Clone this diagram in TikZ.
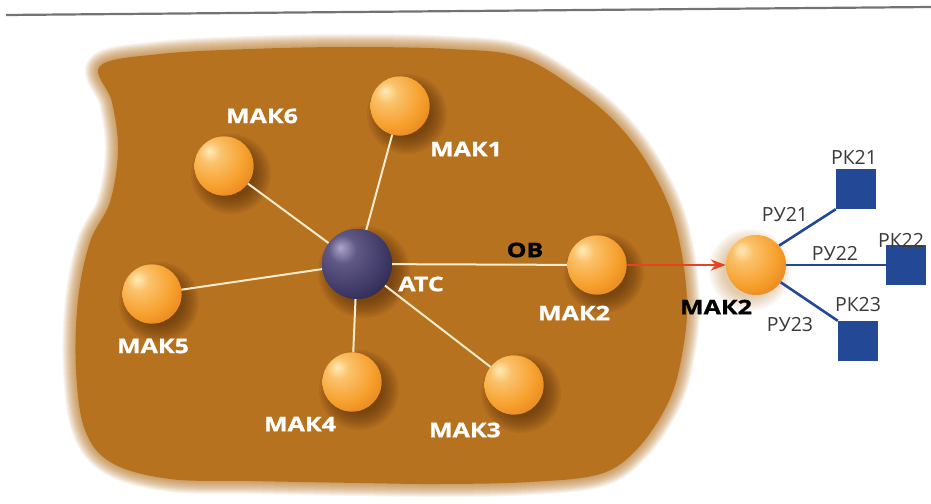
\documentclass[tikz,border=0pt]{standalone}
\usepackage{fontspec}
\setmainfont{Open Sans}
\newfontfamily\lblfont[FakeStretch=1.25,FakeBold=1.2]{Open Sans}
\usetikzlibrary{arrows.meta}
\definecolor{blobc}{RGB}{183,114,32}
\definecolor{ohi}{RGB}{255,236,185}
\definecolor{omid}{RGB}{247,160,45}
\definecolor{odark}{RGB}{214,108,18}
\definecolor{dhi}{RGB}{175,165,205}
\definecolor{dmid}{RGB}{62,56,102}
\definecolor{ddark}{RGB}{18,16,42}
\definecolor{creamc}{RGB}{246,236,204}
\definecolor{bluec}{RGB}{34,72,150}
\definecolor{arrowc}{RGB}{228,68,36}
\definecolor{textc}{RGB}{58,58,58}
\definecolor{shadc}{RGB}{80,42,8}
\pgfdeclareradialshading{oball}{\pgfpoint{-13bp}{13bp}}{color(0bp)=(ohi); color(9bp)=(omid!55!ohi); color(26bp)=(omid); color(48bp)=(odark); color(75bp)=(odark)}
\pgfdeclareradialshading{dball}{\pgfpoint{-12bp}{12bp}}{color(0bp)=(dhi); color(10bp)=(dmid!70!dhi); color(28bp)=(dmid); color(50bp)=(ddark); color(75bp)=(ddark)}
\tikzset{
  oballst/.style={circle, minimum size=59pt, inner sep=0pt, shading=oball},
  dballst/.style={circle, minimum size=70pt, inner sep=0pt, shading=dball},
  wlbl/.style={font=\lblfont\bfseries\fontsize{20}{20}\selectfont, text=white, inner sep=0pt},
  blbl/.style={font=\lblfont\bfseries\fontsize{20}{20}\selectfont, text=black, inner sep=0pt},
  rlbl/.style={font=\fontsize{19.5}{19.5}\selectfont, text=textc, inner sep=0pt},
  creamline/.style={draw=creamc, line width=2pt},
  blueline/.style={draw=bluec, line width=2.6pt},
  rksq/.style={fill=bluec, minimum size=40pt, inner sep=0pt},
}
\begin{document}
\begin{tikzpicture}[x=1pt,y=-1pt]
\useasboundingbox (0,0) rectangle (931,503);
\fill[white] (0,0) rectangle (931,503);
% top rule
\coordinate (tl) at (6,15);
\coordinate (tr) at (931,7);
\draw[line width=2.2pt, black!55] (tl) -- (tr);
% blob
\def\blobpath{plot[smooth cycle, tension=0.6] coordinates {(100,66) (160,54) (250,49) (350,47) (450,49) (520,57) (577,90) (620,127) (653,173) (676,227) (687,300) (681,360) (667,405) (637,449) (600,474) (530,482) (440,484) (360,483) (250,481) (170,479) (112,463) (85,430) (76,370) (78,300) (90,242) (110,202) (118,150) (112,102)}}
\foreach \w in {26,24,...,2} {
  \draw[blobc, line width=\w pt, opacity=0.075, line join=round] \blobpath;
}
\fill[blobc] \blobpath;
% ball shadows
\foreach \x/\y/\r in {400/106/29, 224/166/29, 152/294/29, 352/382/29, 514/385/29, 597/265/29, 357/264/35} {
  \foreach \k in {0,2,...,16} {
    \fill[shadc, opacity=0.085] (\x+7,\y+8) circle[radius=\r+\k-5];
  }
}
\foreach \k in {0,2,...,14} {
  \fill[blobc, opacity=0.05] (750,270) circle[radius=30+\k-3];
}
% balls
\node[dballst] (atc) at (357,264) {};
\node[oballst] (m1) at (400,106) {};
\node[oballst] (m6) at (224,166) {};
\node[oballst] (m5) at (152,294) {};
\node[oballst] (m4) at (352,382) {};
\node[oballst] (m3) at (514,385) {};
\node[oballst] (m2) at (597,265) {};
\node[oballst, minimum size=60pt] (m2o) at (756,265) {};
% connectors
\draw[creamline] (atc) -- (m1);
\draw[creamline] (atc) -- (m6);
\draw[creamline] (atc) -- (m5);
\draw[creamline] (atc) -- (m4);
\draw[creamline] (atc) -- (m3);
\draw[creamline] (atc) -- (m2);
\draw[arrowc, line width=1.6pt, -{Stealth[length=15pt,width=11pt]}] (m2.east) -- (m2o.west);
% squares
\node[rksq] (rk21) at (856,189) {};
\node[rksq] (rk22) at (906,265) {};
\node[rksq] (rk23) at (858,341) {};
\draw[blueline] (m2o.40) -- (rk21.south west);
\draw[blueline] (m2o.east) -- (rk22.west);
\draw[blueline] (m2o.-35) -- (rk23.north west);
% balls on top of connectors
\node[dballst] at (atc) {};
\foreach \n in {m1,m6,m5,m4,m3,m2,m2o} { \node[oballst] at (\n) {}; }
% labels
\node[wlbl] (l6) at (262,116) {МАК6};
\node[wlbl] (l1) at (466,149) {МАК1};
\node[wlbl] (l5) at (153,346) {МАК5};
\node[wlbl] (l4) at (300,424) {МАК4};
\node[wlbl] (l3) at (465,430) {МАК3};
\node[wlbl] (l2) at (574,313) {МАК2};
\node[wlbl] (latc) at (421,284) {АТС};
\node[blbl] (lob) at (525,250) {ОВ};
\node[blbl] (l2o) at (716,307) {МАК2};
\node[rlbl] (lrk21) at (854,157) {РК21};
\node[rlbl] (lru21) at (785,215) {РУ21};
\node[rlbl] (lru22) at (835,254) {РУ22};
\node[rlbl] (lrk22) at (901,240) {РК22};
\node[rlbl] (lru23) at (790,325) {РУ23};
\node[rlbl] (lrk23) at (858,305) {РК23};
\end{tikzpicture}
\end{document}
